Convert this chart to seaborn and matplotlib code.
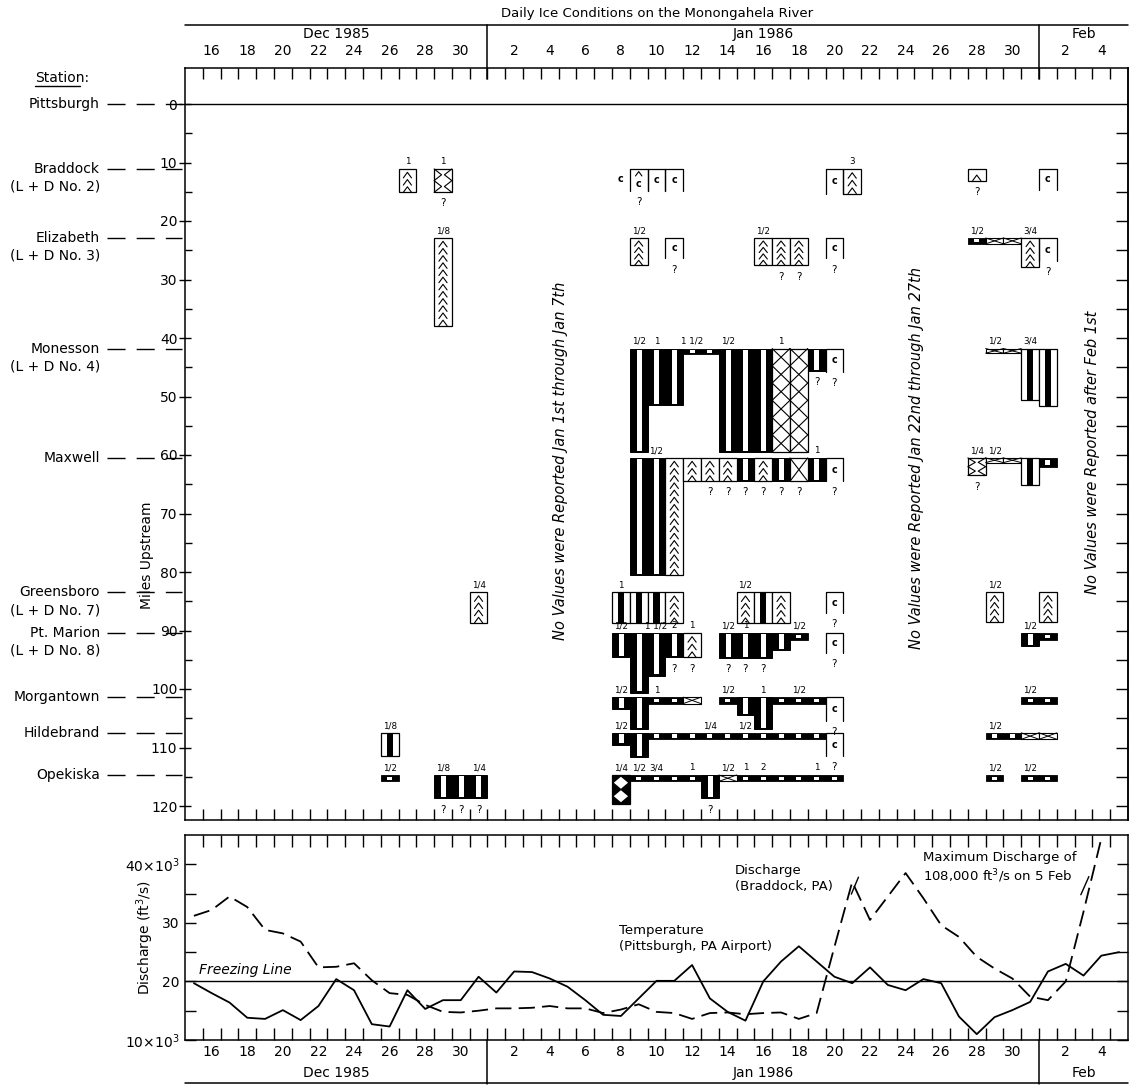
import numpy as np
import pandas as pd
import matplotlib
matplotlib.use("Agg")
import matplotlib.pyplot as plt
from matplotlib.patches import Rectangle, Polygon
from matplotlib.ticker import FixedLocator, FixedFormatter, NullFormatter
import matplotlib.transforms as mtransforms
import seaborn as sns

sns.set_theme(style="white")
plt.rcParams["font.family"] = ["DejaVu Sans"]
plt.rcParams["axes.edgecolor"] = "black"
plt.rcParams["axes.linewidth"] = 1.1
plt.rcParams["text.color"] = "black"
plt.rcParams["axes.labelcolor"] = "black"
plt.rcParams["xtick.color"] = "black"
plt.rcParams["ytick.color"] = "black"

MONTH_OFFSET = {"Dec": 0, "Jan": 31, "Feb": 62}


def day_of(label):
    mon, d = label.split()
    return MONTH_OFFSET[mon] + int(d)


# ---------------- stations (river miles upstream of Pittsburgh) ----------------
STATIONS = ["Pittsburgh", "Braddock", "Elizabeth", "Monesson", "Maxwell",
            "Greensboro", "Pt. Marion", "Morgantown", "Hildebrand", "Opekiska"]
STATION_MILES = [0.0, 11.1, 22.9, 41.8, 60.5, 83.5, 90.4, 101.4, 107.5, 114.7]
STATION_LOCKS = ["", "(L + D No. 2)", "(L + D No. 3)", "(L + D No. 4)", "",
                 "(L + D No. 7)", "(L + D No. 8)", "", "", ""]

# ice observations: (date, extent in miles, ice type, uncertain)
BRADDOCK_CELLS = [
    ("Dec 27", 4.0, "chev", False), ("Dec 29", 4.0, "zig", True),
    ("Jan 8", 3.5, "cl", False), ("Jan 9", 3.8, "c^", True),
    ("Jan 10", 3.8, "c", False), ("Jan 11", 3.8, "c", False),
    ("Jan 20", 4.2, "c", False), ("Jan 21", 4.2, "chev", False),
    ("Jan 28", 2.0, "chev", True), ("Feb 1", 3.6, "c", False),
]
BRADDOCK_THICK = [("Dec 27", "1"), ("Dec 29", "1"), ("Jan 21", "3")]

ELIZABETH_CELLS = [
    ("Dec 29", 15.0, "chev", False), ("Jan 9", 4.7, "chev", False),
    ("Jan 11", 3.5, "c", True),
    ("Jan 16", 4.7, "chev", False), ("Jan 17", 4.7, "chev", True),
    ("Jan 18", 4.7, "chev", True), ("Jan 20", 3.5, "c", True),
    ("Jan 28", 1.0, "strip", False), ("Jan 29", 1.0, "stripx", False),
    ("Jan 30", 1.0, "stripx", False), ("Jan 31", 5.0, "chev", False),
    ("Feb 1", 4.0, "c", True),
]
ELIZABETH_THICK = [("Dec 29", "1/8"), ("Jan 9", "1/2"), ("Jan 16", "1/2"),
                   ("Jan 28", "1/2"), ("Jan 31", "3/4")]

MONESSON_CELLS = [
    ("Jan 9", 17.7, "B", False), ("Jan 10", 9.6, "B", False),
    ("Jan 11", 9.6, "B", False), ("Jan 12", 1.0, "strip", False),
    ("Jan 13", 1.0, "strip", False), ("Jan 14", 17.7, "B", False),
    ("Jan 15", 17.7, "B", False), ("Jan 16", 17.7, "B", False),
    ("Jan 17", 17.7, "X", False), ("Jan 18", 17.7, "X", False),
    ("Jan 19", 3.9, "B", True), ("Jan 20", 4.0, "c", True),
    ("Jan 29", 0.8, "stripx", False), ("Jan 30", 0.8, "stripx", False),
    ("Jan 31", 8.8, "W", False), ("Feb 1", 9.9, "W", False),
]
MONESSON_THICK = [("Jan 9", "1/2"), ("Jan 10", "1"), ("Jan 12", "1 1/2"),
                  ("Jan 14", "1/2"), ("Jan 17", "1"), ("Jan 29", "1/2"),
                  ("Jan 31", "3/4")]

MAXWELL_CELLS = [
    ("Jan 9", 20.0, "B", False), ("Jan 10", 20.0, "B", False),
    ("Jan 11", 20.0, "chev", False), ("Jan 12", 4.0, "chev", False),
    ("Jan 13", 4.0, "chev", True), ("Jan 14", 4.0, "chev", True),
    ("Jan 15", 4.0, "B", True), ("Jan 16", 4.0, "chev", True),
    ("Jan 17", 4.0, "B", True), ("Jan 18", 4.0, "X", True),
    ("Jan 19", 4.0, "B", False), ("Jan 20", 4.0, "c", True),
    ("Jan 28", 3.0, "zig", True), ("Jan 29", 0.8, "stripx", False),
    ("Jan 30", 0.8, "stripx", False), ("Jan 31", 4.6, "W", False),
    ("Feb 1", 1.5, "strip", False),
]
MAXWELL_THICK = [("Jan 10", "1/2"), ("Jan 19", "1"), ("Jan 28", "1/4"),
                 ("Jan 29", "1/2")]

GREENSBORO_CELLS = [
    ("Dec 31", 5.2, "chev", False), ("Jan 8", 5.3, "W", False),
    ("Jan 9", 5.3, "W", False), ("Jan 10", 5.3, "W", False),
    ("Jan 11", 5.3, "chev", False), ("Jan 15", 5.3, "chev", False),
    ("Jan 16", 5.3, "W", False), ("Jan 17", 5.3, "chev", False),
    ("Jan 20", 3.5, "c", True), ("Jan 29", 5.0, "chev", False),
    ("Feb 1", 5.0, "chev", False),
]
GREENSBORO_THICK = [("Dec 31", "1/4"), ("Jan 8", "1"), ("Jan 15", "1/2"),
                    ("Jan 29", "1/2")]

PT_MARION_CELLS = [
    ("Jan 8", 4.2, "B", False), ("Jan 9", 10.2, "B", False),
    ("Jan 10", 7.3, "B", False), ("Jan 11", 4.2, "B", True),
    ("Jan 12", 4.2, "chev", True), ("Jan 14", 4.3, "B", True),
    ("Jan 15", 4.3, "B", True), ("Jan 16", 4.3, "B", True),
    ("Jan 17", 3.0, "B", False), ("Jan 18", 1.2, "strip", False),
    ("Jan 20", 3.5, "c", True), ("Jan 31", 2.2, "B", False),
    ("Feb 1", 1.2, "strip", False),
]
PT_MARION_THICK = [("Jan 8", "1/2"), ("Jan 10", "1 1/2"), ("Jan 11", "2"),
                   ("Jan 12", "1"), ("Jan 14", "1/2"), ("Jan 15", "1"),
                   ("Jan 18", "1/2"), ("Jan 31", "1/2")]

MORGANTOWN_CELLS = [
    ("Jan 8", 2.0, "B", False), ("Jan 9", 5.4, "B", False),
    ("Jan 10", 1.1, "strip", False), ("Jan 11", 1.1, "strip", False),
    ("Jan 12", 1.1, "stripx", False), ("Jan 14", 1.1, "strip", False),
    ("Jan 15", 3.1, "B", False), ("Jan 16", 5.4, "B", False),
    ("Jan 17", 1.1, "strip", False), ("Jan 18", 1.1, "strip", False),
    ("Jan 19", 1.1, "strip", False), ("Jan 20", 4.0, "c", True),
    ("Jan 31", 1.2, "strip", False), ("Feb 1", 1.2, "strip", False),
]
MORGANTOWN_THICK = [("Jan 8", "1/2"), ("Jan 10", "1"), ("Jan 14", "1/2"),
                    ("Jan 16", "1"), ("Jan 18", "1/2"), ("Jan 31", "1/2")]

HILDEBRAND_CELLS = [
    ("Dec 26", 4.0, "W", False), ("Jan 8", 2.0, "B", False),
    ("Jan 9", 4.2, "B", False), ("Jan 10", 1.1, "strip", False),
    ("Jan 11", 1.1, "strip", False), ("Jan 12", 1.1, "strip", False),
    ("Jan 13", 1.1, "strip", False), ("Jan 14", 1.1, "strip", False),
    ("Jan 15", 1.1, "strip", False), ("Jan 16", 1.1, "strip", False),
    ("Jan 17", 1.1, "strip", False), ("Jan 18", 1.1, "strip", False),
    ("Jan 19", 1.1, "strip", False), ("Jan 20", 4.0, "c", True),
    ("Jan 29", 1.1, "strip", False), ("Jan 30", 1.1, "strip", False),
    ("Jan 31", 1.1, "stripx", False), ("Feb 1", 1.1, "stripx", False),
]
HILDEBRAND_THICK = [("Dec 26", "1/8"), ("Jan 8", "1/2"), ("Jan 13", "1/4"),
                    ("Jan 15", "1/2"), ("Jan 29", "1/2")]

OPEKISKA_CELLS = [
    ("Dec 26", 1.1, "strip", False), ("Dec 29", 4.0, "B", True),
    ("Dec 30", 4.0, "B", True), ("Dec 31", 4.0, "B", True),
    ("Jan 8", 4.9, "H", False), ("Jan 9", 1.1, "strip", False),
    ("Jan 10", 1.1, "strip", False), ("Jan 11", 1.1, "strip", False),
    ("Jan 12", 1.1, "strip", False), ("Jan 13", 4.0, "B", True),
    ("Jan 14", 1.1, "stripx", False), ("Jan 15", 1.1, "strip", False),
    ("Jan 16", 1.1, "strip", False), ("Jan 17", 1.1, "strip", False),
    ("Jan 18", 1.1, "strip", False), ("Jan 19", 1.1, "strip", False),
    ("Jan 20", 1.1, "strip", False), ("Jan 29", 1.1, "strip", False),
    ("Jan 31", 1.1, "strip", False), ("Feb 1", 1.1, "strip", False),
]
OPEKISKA_THICK = [("Dec 26", "1/2"), ("Dec 29", "1/8"), ("Dec 31", "1/4"),
                  ("Jan 8", "1/4"), ("Jan 9", "1/2"), ("Jan 10", "3/4"),
                  ("Jan 12", "1"), ("Jan 14", "1/2"), ("Jan 15", "1"),
                  ("Jan 16", "2"), ("Jan 19", "1"), ("Jan 29", "1/2"),
                  ("Jan 31", "1/2")]

# ---------------- daily discharge and air temperature ----------------
LINE_START = "Dec 15"
TEMPERATURE = [19.7, 18.0, 16.4, 13.8, 13.6, 15.1, 13.4, 15.8, 20.4, 18.5,
               12.7, 12.3, 18.5, 15.3, 16.8, 16.8, 20.8,
               18.1, 21.7, 21.6, 20.5, 19.1, 16.8, 14.3, 14.1, 17.1, 20.1,
               20.1, 22.8, 17.1, 14.8, 13.3, 20.0, 23.4, 26.0, 23.4, 20.8,
               19.7, 22.4, 19.4, 18.5, 20.4, 19.7, 14.0, 11.0, 13.9, 15.1, 16.5,
               21.7, 23.0, 21.0, 24.4, 25.0]
DISCHARGE = [31.2, 32.2, 34.5, 32.7, 28.8, 28.2, 26.8, 22.4, 22.5, 23.1,
             20.2, 18.0, 17.7, 16.0, 14.8, 14.7, 15.0,
             15.4, 15.4, 15.5, 15.8, 15.4, 15.4, 14.6, 15.2, 16.1, 14.8,
             14.6, 13.6, 14.6, 14.7, 14.4, 14.6, 14.7, 13.6, 14.6, 25.9,
             37.0, 30.5, 34.5, 38.5, 34.2, 29.6, 27.6, 24.2, 22.2, 20.5, 17.4,
             16.8, 20.0, 31.9, 44.4, 108.0]

DAY_LABELS = (["Dec %d" % d for d in range(16, 31, 2)]
              + ["Jan %d" % d for d in range(2, 31, 2)]
              + ["Feb 2", "Feb 4"])
MONTHS = [("Dec 1985", 14.5, 31.5), ("Jan 1986", 31.5, 62.5), ("Feb", 62.5, 67.5)]

X_MIN, X_MAX = 14.5, 67.5

# ---------------- figure ----------------
W, H = 1133, 1085
fig = plt.figure(figsize=(W / 100, H / 100), dpi=100)
fig.patch.set_facecolor("white")

L_PX, R_PX = 185, 1128
TOP_T, TOP_B = 68, 820
BOT_T, BOT_B = 835, 1040
ZERO_PX, PX_PER_MILE = 104, 5.85
ax = fig.add_axes([L_PX / W, 1 - TOP_B / H, (R_PX - L_PX) / W, (TOP_B - TOP_T) / H])
axb = fig.add_axes([L_PX / W, 1 - BOT_B / H, (R_PX - L_PX) / W, (BOT_B - BOT_T) / H])

LW = 0.9


def draw_cell(a, day, top, depth, kind, query):
    x0 = day - 0.5
    bot = top + depth
    if kind == "B":
        a.add_patch(Rectangle((x0, top), 1, depth, fc="black", ec="black", lw=0.7))
        inset = min(0.2, depth * 0.12)
        a.add_patch(Rectangle((x0 + 0.38, top + inset), 0.28, depth - 2 * inset,
                              fc="white", ec="none"))
    elif kind == "W":
        a.add_patch(Rectangle((x0, top), 1, depth, fc="white", ec="black", lw=LW))
        a.add_patch(Rectangle((x0 + 0.33, top), 0.34, depth, fc="black", ec="none"))
    elif kind == "chev":
        a.add_patch(Rectangle((x0, top), 1, depth, fc="white", ec="black", lw=LW))
        n = max(1, int(round((depth - 0.3) / 1.25)))
        step = (depth - 0.3) / n
        for i in range(n):
            yb = top + 0.3 + (i + 1) * step
            a.plot([x0 + 0.27, x0 + 0.5, x0 + 0.73], [yb, yb - min(0.95, step * 0.8), yb],
                   color="black", lw=0.8)
    elif kind == "X":
        a.add_patch(Rectangle((x0, top), 1, depth, fc="white", ec="black", lw=LW))
        n = max(1, int(round(depth / 3.2)))
        h = depth / n
        for i in range(n):
            y0 = top + i * h
            a.plot([x0, x0 + 1], [y0, y0 + h], color="black", lw=0.8)
            a.plot([x0, x0 + 1], [y0 + h, y0], color="black", lw=0.8)
    elif kind in ("c", "c^"):
        a.plot([x0, x0, x0 + 1, x0 + 1], [bot, top, top, bot], color="black", lw=LW)
        cy = top + min(depth * 0.5, 2.0)
        if kind == "c^":
            cy = top + depth * 0.68
            a.plot([day - 0.18, day, day + 0.18], [top + 1.2, top + 0.45, top + 1.2],
                   color="black", lw=0.8)
        a.text(day, cy, "c", ha="center", va="center", fontsize=7, fontweight="bold")
    elif kind == "cl":
        a.text(day, top + min(depth * 0.5, 2.0), "c", ha="center", va="center",
               fontsize=7, fontweight="bold")
    elif kind == "zig":
        a.add_patch(Rectangle((x0, top), 1, depth, fc="white", ec="black", lw=LW))
        ys = [top, top + depth * 0.25, top + depth * 0.5, top + depth * 0.75, bot]
        a.plot([x0, x0 + 0.42, x0, x0 + 0.42, x0], ys, color="black", lw=0.8)
        a.plot([x0 + 1, x0 + 0.58, x0 + 1, x0 + 0.58, x0 + 1], ys, color="black", lw=0.8)
    elif kind == "strip":
        a.add_patch(Rectangle((x0, top), 1, depth, fc="black", ec="black", lw=0.6))
        a.add_patch(Rectangle((x0 + 0.36, top + depth * 0.25), 0.28, depth * 0.5,
                              fc="white", ec="none"))
    elif kind == "stripx":
        a.add_patch(Rectangle((x0, top), 1, depth, fc="white", ec="black", lw=0.8))
        a.plot([x0, x0 + 1], [top, bot], color="black", lw=0.7)
        a.plot([x0, x0 + 1], [bot, top], color="black", lw=0.7)
    elif kind == "H":
        a.add_patch(Rectangle((x0, top), 1, depth, fc="black", ec="black", lw=LW))
        for k in range(2):
            ya = top + depth * (0.06 + 0.47 * k)
            yb = ya + depth * 0.42
            ym = (ya + yb) / 2
            a.add_patch(Polygon([[day, ya], [x0 + 0.9, ym], [day, yb], [x0 + 0.1, ym]],
                                closed=True, fc="white", ec="none"))
    if query:
        a.text(day, bot + 1.9, "?", ha="center", va="center", fontsize=7.5)


STATION_DATA = [
    (STATION_MILES[1], BRADDOCK_CELLS, BRADDOCK_THICK),
    (STATION_MILES[2], ELIZABETH_CELLS, ELIZABETH_THICK),
    (STATION_MILES[3], MONESSON_CELLS, MONESSON_THICK),
    (STATION_MILES[4], MAXWELL_CELLS, MAXWELL_THICK),
    (STATION_MILES[5], GREENSBORO_CELLS, GREENSBORO_THICK),
    (STATION_MILES[6], PT_MARION_CELLS, PT_MARION_THICK),
    (STATION_MILES[7], MORGANTOWN_CELLS, MORGANTOWN_THICK),
    (STATION_MILES[8], HILDEBRAND_CELLS, HILDEBRAND_THICK),
    (STATION_MILES[9], OPEKISKA_CELLS, OPEKISKA_THICK),
]
for mile, cells, thick in STATION_DATA:
    for date, depth, kind, query in cells:
        draw_cell(ax, day_of(date), mile, depth, kind, query)
    for date, text in thick:
        ax.text(day_of(date), mile - 0.45, text, ha="center", va="bottom", fontsize=6.3)

ax.axhline(0, color="black", lw=1.0)
ax.set_xlim(X_MIN, X_MAX)
ax.set_ylim((TOP_B - ZERO_PX) / PX_PER_MILE, (TOP_T - ZERO_PX) / PX_PER_MILE)

# ---- ticks on both panels ----
boundaries = np.arange(X_MIN + 1, X_MAX - 0.5, 1.0)
for a in (ax, axb):
    a.xaxis.set_major_locator(FixedLocator(boundaries))
    a.xaxis.set_major_formatter(NullFormatter())
    a.tick_params(axis="x", which="major", direction="in", length=8, width=1.0,
                  top=True, bottom=True, color="black")
    for s in a.spines.values():
        s.set_visible(True)
        s.set_color("black")
        s.set_linewidth(1.1)

ax.yaxis.set_major_locator(FixedLocator(range(0, 121, 10)))
ax.yaxis.set_minor_locator(FixedLocator(range(5, 121, 10)))
ax.tick_params(axis="y", which="major", direction="inout", length=9, width=1.0,
               left=True, right=False, labelsize=10, pad=1, color="black")
ax.tick_params(axis="y", which="minor", direction="in", length=5, width=1.0,
               left=True, right=False, color="black")
sec = ax.secondary_yaxis("right")
sec.set_yticks(list(range(5, 121, 5)))
sec.tick_params(direction="in", length=9, width=1.0, labelright=False, color="black")
sec.spines["right"].set_linewidth(1.1)
ax.set_ylabel("")
fig.text(147 / W, 1 - 555 / H, "Miles Upstream", rotation=90, ha="center",
         va="center", fontsize=10)

trans_top = mtransforms.blended_transform_factory(ax.transData, ax.transAxes)
top_h = TOP_B - TOP_T
for lab in DAY_LABELS:
    ax.text(day_of(lab), 1 + 17 / top_h, lab.split()[1], transform=trans_top,
            ha="center", va="center", fontsize=10)
for name, a0, a1 in MONTHS:
    ax.text((a0 + a1) / 2, 1 + 34 / top_h, name, transform=trans_top,
            ha="center", va="center", fontsize=10)
ax.plot([X_MIN, X_MAX], [1 + 43 / top_h] * 2, transform=trans_top, color="black",
        lw=1.1, clip_on=False)
for sep in (31.5, 62.5):
    ax.plot([sep, sep], [1 + 43 / top_h, 1 - 11 / top_h], transform=trans_top,
            color="black", lw=1.1, clip_on=False)

# station names with leader dashes
trans_left = mtransforms.blended_transform_factory(ax.transAxes, ax.transData)
name_x = (100 - L_PX) / (R_PX - L_PX)
lead0 = (107 - L_PX) / (R_PX - L_PX)
for name, mile, lock in zip(STATIONS, STATION_MILES, STATION_LOCKS):
    ax.text(name_x, mile, name, transform=trans_left, ha="right", va="center",
            fontsize=10)
    if lock:
        ax.text(name_x, mile + 3.0, lock, transform=trans_left, ha="right",
                va="center", fontsize=10)
    ax.plot([lead0, -0.003], [mile, mile], transform=trans_left, color="black",
            lw=1.0, dashes=(13, 8), clip_on=False)

fig.text(35 / W, 1 - 78 / H, "Station:", ha="left", va="center", fontsize=10)
fig.add_artist(plt.Line2D([35 / W, 80 / W], [1 - 86 / H] * 2, color="black", lw=1.0))

fig.text(657 / W, 1 - 14 / H, "Daily Ice Conditions on the Monongahela River",
         ha="center", va="center", fontsize=9.5)

NOTES = [
    (35.6, 61.0, "No Values were Reported Jan 1st through Jan 7th"),
    (55.6, 60.5, "No Values were Reported Jan 22nd through Jan 27th"),
    (65.5, 59.5, "No Values were Reported after Feb 1st"),
]
for nx, ny, txt in NOTES:
    ax.text(nx, ny, txt, rotation=90, ha="center", va="center", fontsize=10.5,
            style="italic")

# ---------------- bottom panel: discharge and temperature ----------------
n_days = len(TEMPERATURE)
line_days = [day_of(LINE_START) + i for i in range(n_days)]
line_df = pd.DataFrame({
    "day": line_days * 2,
    "value": TEMPERATURE + DISCHARGE,
    "series": ["Temperature"] * n_days + ["Discharge"] * n_days,
})
sns.lineplot(data=line_df, x="day", y="value", style="series",
             dashes={"Temperature": "", "Discharge": (9, 4)}, color="black",
             lw=1.3, legend=False, estimator=None, sort=False, ax=axb)
axb.axhline(20, color="black", lw=1.0)
axb.set_xlim(X_MIN, X_MAX)
axb.set_ylim(10, 45)
axb.set_xlabel("")
axb.set_ylabel("")
axb.yaxis.set_major_locator(FixedLocator([10, 20, 30, 40]))
axb.yaxis.set_major_formatter(FixedFormatter([r"10$\times$10$^3$", "20", "30",
                                              r"40$\times$10$^3$"]))
axb.yaxis.set_minor_locator(FixedLocator([15, 25, 35]))
axb.tick_params(axis="y", which="both", direction="in", length=8, width=1.0,
                left=True, right=True, labelsize=10, pad=4, color="black")
axb.xaxis.set_major_locator(FixedLocator(boundaries))
axb.xaxis.set_major_formatter(NullFormatter())
axb.tick_params(axis="x", which="major", direction="in", length=8.5, width=1.0,
                top=True, bottom=True, color="black")
fig.text(145 / W, 1 - 938 / H, r"Discharge (ft$^3$/s)", rotation=90, ha="center",
         va="center", fontsize=10)

trans_bot = mtransforms.blended_transform_factory(axb.transData, axb.transAxes)
bot_h = BOT_B - BOT_T
for lab in DAY_LABELS:
    axb.text(day_of(lab), -12 / bot_h, lab.split()[1], transform=trans_bot,
             ha="center", va="center", fontsize=10)
for name, a0, a1 in MONTHS:
    axb.text((a0 + a1) / 2, -33 / bot_h, name, transform=trans_bot,
             ha="center", va="center", fontsize=10)
axb.plot([X_MIN, X_MAX], [-43 / bot_h] * 2, transform=trans_bot, color="black",
         lw=1.1, clip_on=False)
for sep in (31.5, 62.5):
    axb.plot([sep, sep], [0, -44 / bot_h], transform=trans_bot, color="black",
             lw=1.1, clip_on=False)

axb.text(15.3, 22.0, "Freezing Line", style="italic", fontsize=10,
         ha="left", va="center")
axb.text(45.4, 40.0, "Discharge\n(Braddock, PA)", fontsize=9.5, ha="left",
         va="top", linespacing=1.3)
axb.plot([51.95, 52.35], [34.9, 37.8], color="black", lw=1.0)
axb.text(56.0, 42.2, "Maximum Discharge of\n108,000 ft$^3$/s on 5 Feb", fontsize=9.5,
         ha="left", va="top", linespacing=1.2)
axb.plot([64.85, 65.3], [34.8, 37.9], color="black", lw=1.0)
axb.text(38.9, 29.8, "Temperature\n(Pittsburgh, PA Airport)", fontsize=9.5,
         ha="left", va="top", linespacing=1.3)

fig.savefig("out.png", dpi=100, facecolor="white")
